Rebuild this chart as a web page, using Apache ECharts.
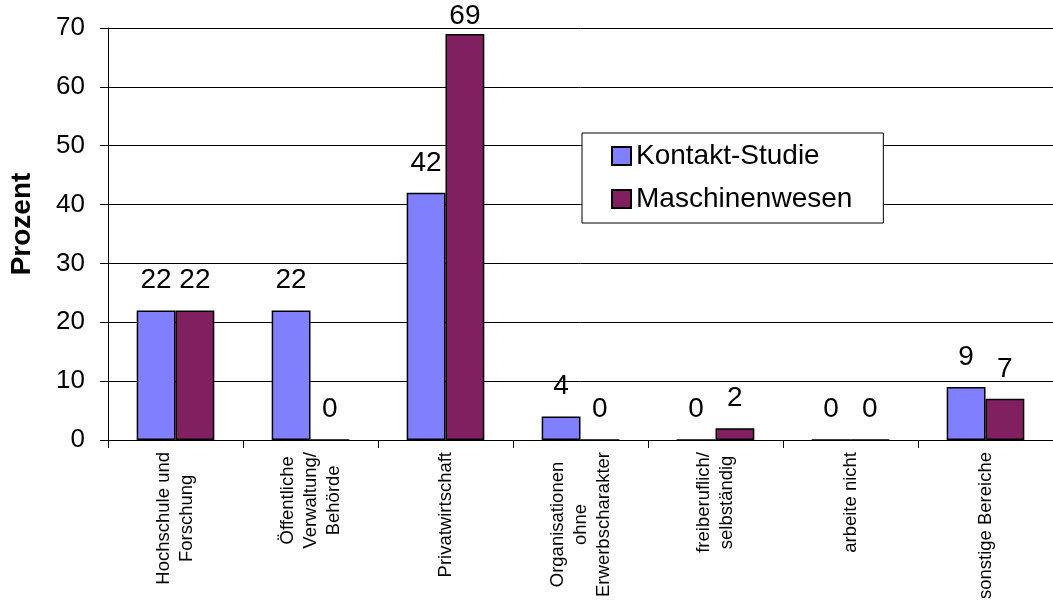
<!DOCTYPE html>
<html>
<head>
<meta charset="utf-8">
<script src="https://cdn.jsdelivr.net/npm/echarts@6/dist/echarts.min.js"></script>
<style>
  html, body { margin: 0; padding: 0; background: #fff; }
  #chart { width: 1053px; height: 604px; }
</style>
</head>
<body>
<div id="chart"></div>
<script>
// Kategorien (mit Zeilenumbrüchen wie im Original)
const categories = [
  'Hochschule und\nForschung',
  'Öffentliche\nVerwaltung/\nBehörde',
  'Privatwirtschaft',
  'Organisationen\nohne\nErwerbscharakter',
  'freiberuflich/\nselbständig',
  'arbeite nicht',
  'sonstige Bereiche'
]
const kontaktStudie = [22, 22, 42, 4, 0, 0, 9]
const maschinenwesen = [22, 0, 69, 0, 2, 0, 7]
const yTicks = [0, 10, 20, 30, 40, 50, 60, 70]

const font = 'Liberation Sans, Arial, sans-serif'
const yMax = yTicks[yTicks.length - 1]

const chart = echarts.init(document.getElementById('chart'))

// Labels near the top of the plot area are pushed down (like Excel does)
function toItems(values) {
  return values.map(v => v > yMax - 5 ? { value: v, label: { distance: 4 } } : v)
}

function barSeries(name, data, color) {
  return {
    name: name,
    type: 'bar',
    data: toItems(data),
    barGap: '0%',
    barCategoryGap: '42.5%',
    itemStyle: { color: color, borderColor: '#000', borderWidth: 1.5 },
    label: {
      show: true,
      position: 'top',
      distance: 16,
      fontFamily: font,
      fontSize: 28,
      color: '#000'
    }
  }
}

chart.setOption({
  animation: false,
  textStyle: { fontFamily: font },
  grid: { left: 102, width: 955, top: 28, bottom: 164, containLabel: false },
  legend: {
    orient: 'vertical',
    left: 582,
    top: 133,
    padding: [9, 31, 10, 29],
    itemGap: 15,
    itemWidth: 19,
    itemHeight: 18,
    icon: 'rect',
    backgroundColor: '#fff',
    borderColor: '#000',
    borderWidth: 1,
    textStyle: { fontFamily: font, fontSize: 28, color: '#000' },
    data: ['Kontakt-Studie', 'Maschinenwesen']
  },
  xAxis: {
    type: 'category',
    data: categories,
    axisLine: { lineStyle: { color: '#000', width: 1 } },
    axisTick: { show: true, length: 8, lineStyle: { color: '#000' } },
    axisLabel: {
      rotate: 90,
      margin: 12,
      interval: 0,
      fontFamily: font,
      fontSize: 18.5,
      color: '#000',
      lineHeight: 23,
      formatter: function (v) {
        return v.split('\n').map(s => '{c|' + s + '}').join('\n')
      },
      rich: { c: { align: 'center', fontSize: 18.5, lineHeight: 23, fontFamily: font, color: '#000' } }
    }
  },
  yAxis: {
    type: 'value',
    min: yTicks[0],
    max: yMax,
    interval: 10,
    name: 'Prozent',
    nameLocation: 'middle',
    nameGap: 72,
    nameTextStyle: { fontFamily: font, fontSize: 28, fontWeight: 'bold', color: '#000', padding: [0, 0, 0, 20] },
    axisLine: { show: true, lineStyle: { color: '#000', width: 1 } },
    axisTick: { show: true, length: 8, lineStyle: { color: '#000' } },
    axisLabel: { margin: 23, fontFamily: font, fontSize: 26, color: '#000' },
    splitLine: { show: true, lineStyle: { color: '#000', width: 1 } }
  },
  series: [
    barSeries('Kontakt-Studie', kontaktStudie, '#8080FF'),
    barSeries('Maschinenwesen', maschinenwesen, '#802060')
  ]
})
</script>
</body>
</html>
